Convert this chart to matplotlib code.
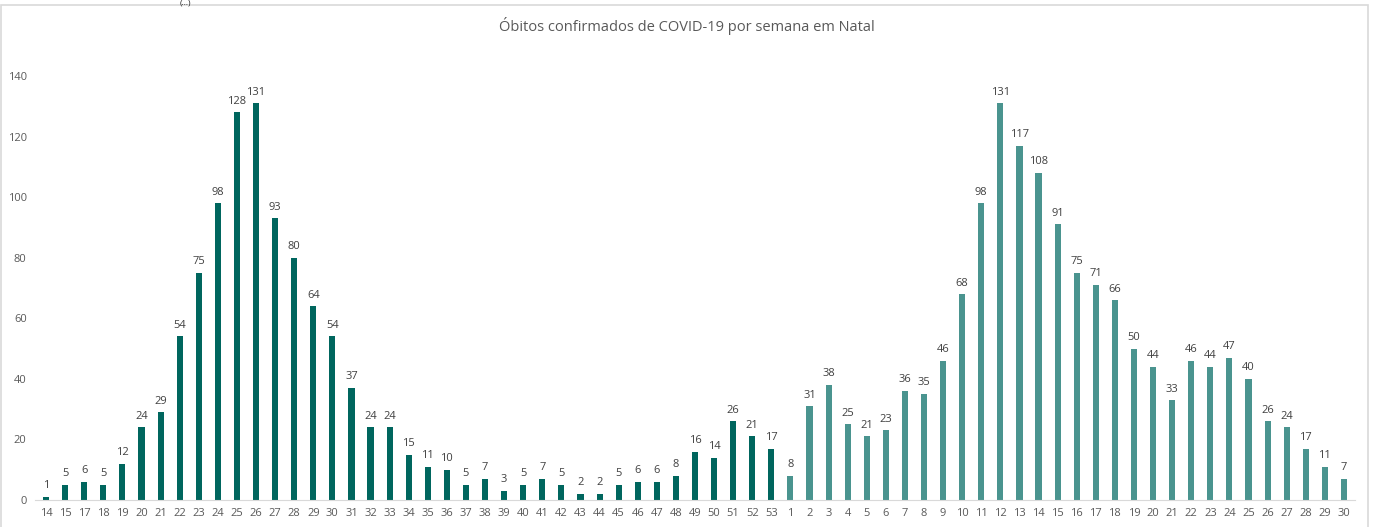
import matplotlib.pyplot as plt
from matplotlib.patches import Rectangle

plt.rcParams['font.family'] = ['Open Sans', 'DejaVu Sans']

weeks_2020 = [14, 15, 17, 18, 19, 20, 21, 22, 23, 24, 25, 26, 27, 28, 29, 30, 31, 32, 33, 34,
              35, 36, 37, 38, 39, 40, 41, 42, 43, 44, 45, 46, 47, 48, 49, 50, 51, 52, 53]
deaths_2020 = [1, 5, 6, 5, 12, 24, 29, 54, 75, 98, 128, 131, 93, 80, 64, 54, 37, 24, 24, 15,
               11, 10, 5, 7, 3, 5, 7, 5, 2, 2, 5, 6, 6, 8, 16, 14, 26, 21, 17]
weeks_2021 = list(range(1, 31))
deaths_2021 = [8, 31, 38, 25, 21, 23, 36, 35, 46, 68, 98, 131, 117, 108, 91, 75, 71, 66, 50, 44,
               33, 46, 44, 47, 40, 26, 24, 17, 11, 7]

labels = [str(w) for w in weeks_2020 + weeks_2021]
x1 = list(range(len(deaths_2020)))
x2 = list(range(len(deaths_2020), len(deaths_2020) + len(deaths_2021)))

fig = plt.figure(figsize=(13.73, 5.27), dpi=100)
ax = fig.add_axes([35 / 1373, 1 - 500 / 527, 1320 / 1373, 424 / 527])

b1 = ax.bar(x1, deaths_2020, width=0.32, color='#00665E')
b2 = ax.bar(x2, deaths_2021, width=0.32, color='#4A948F')
for bars in (b1, b2):
    ax.bar_label(bars, padding=4, fontsize=8, color='#404040')

ax.set_xlim(-0.58, len(labels) - 1 + 0.58)
ax.set_ylim(0, 140)
ax.set_yticks(range(0, 141, 20))
ax.set_xticks(x1 + x2)
ax.set_xticklabels(labels)
ax.tick_params(axis='both', length=0, labelsize=8, labelcolor='#595959')
ax.tick_params(axis='y', pad=6)
ax.tick_params(axis='x', pad=6)
for s in ['top', 'right', 'left']:
    ax.spines[s].set_visible(False)
ax.spines['bottom'].set_color('#D9D9D9')

fig.text(0.5, 1 - 26 / 527, 'Óbitos confirmados de COVID-19 por semana em Natal',
         ha='center', va='center', fontsize=10.5, color='#595959')
fig.text(185 / 1373, 1.0, '(…)', ha='center', va='top', fontsize=6, color='#222222')
fig.patches.append(Rectangle((1 / 1373, -0.1), 1367 / 1373, 1.1 - 5 / 527,
                             transform=fig.transFigure, fill=False,
                             edgecolor='#D9D9D9', linewidth=1.2))

fig.savefig('out.png', dpi=100)
